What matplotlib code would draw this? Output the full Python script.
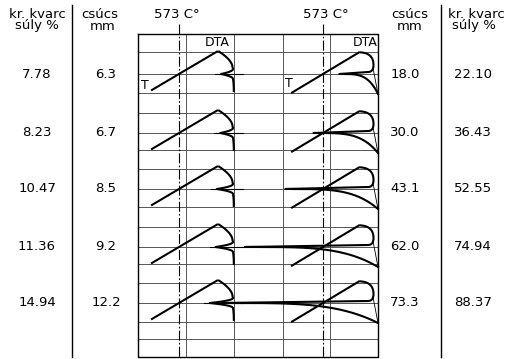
import numpy as np
import matplotlib
matplotlib.use("Agg")
import matplotlib.pyplot as plt

# ---- data ----
quartz_left = ["7.78", "8.23", "10.47", "11.36", "14.94"]     # kr. kvarc súly %
peak_left = [6.3, 6.7, 8.5, 9.2, 12.2]                        # csúcs mm
peak_left_text = ["6.3", "6.7", "8.5", "9.2", "12.2"]
peak_right = [18.0, 30.0, 43.1, 62.0, 73.3]                   # csúcs mm
peak_right_text = ["18.0", "30.0", "43.1", "62.0", "73.3"]
quartz_right = ["22.10", "36.43", "52.55", "74.94", "88.37"]  # kr. kvarc súly %

# ---- layout (pixel space) ----
W, H = 511, 359
fig = plt.figure(figsize=(W / 100, H / 100), dpi=100)
ax = fig.add_axes([0, 0, 1, 1])
ax.set_xlim(0, W)
ax.set_ylim(H, 0)
ax.axis('off')

row_y = [74, 133, 189, 247, 303]
L, T, R, B = 138, 34, 378, 357
grid_y = [52, 74, 93, 113, 133, 150, 169, 189, 207, 227, 247, 264, 283,
          303, 322, 339]
grid_x = [186, 234, 283, 330]
x573 = [179, 323]

gc = '#555555'
for y in grid_y:
    ax.plot([L, R], [y, y], color=gc, lw=0.7)
for x in grid_x:
    ax.plot([x, x], [T, B], color=gc, lw=0.7)
for x in x573:
    ax.plot([x, x], [24, B], color='k', lw=0.8, dashes=(9, 2, 1.5, 2))
ax.plot([L, R, R, L, L], [T, T, B, B, T], color='k', lw=1.0)
for x in [72, 441]:
    ax.plot([x, x], [5, 357], color='k', lw=1.0)

LW = 1.5


def bez(p0, p1, p2, n=20):
    t = np.linspace(0, 1, n)[:, None]
    p0, p1, p2 = map(np.asarray, (p0, p1, p2))
    pts = (1 - t) ** 2 * p0 + 2 * (1 - t) * t * p1 + t ** 2 * p2
    return pts[:, 0], pts[:, 1]


# ---- left panel curves ----
sl = 0.59
xb = 233
for c, h in zip(row_y, peak_left):
    x0, x1 = 152, 217
    y0 = c - (x0 - x573[0]) * sl
    y1 = c - (x1 - x573[0]) * sl
    ax.plot([x0, x1], [y0, y1], color='k', lw=LW)
    tip = xb - 1.9 * h
    w = 5.0
    xs, ys = [], []
    bx, by = bez((x1 + 2, y1), (xb - 1, c - 14), (xb - 0.5, c - 7))
    xs += list(bx); ys += list(by)
    d = np.linspace(w, 0, 25)
    xs += list(xb - (xb - tip) * (1 - d / w) ** 2); ys += list(c - d)
    d = np.linspace(0, w, 25)
    xs += list(xb - (xb - tip) * (1 - d / w) ** 2); ys += list(c + d)
    bx, by = bez((xb, c + w), (xb + 0.8, c + 10), (xb + 0.8, c + 17))
    xs += list(bx); ys += list(by)
    ax.plot(xs, ys, color='k', lw=LW)
    # level mark through the peak
    ax.plot([tip - 6, xb + 10], [c, c], color='k', lw=0.8)

# ---- right panel curves ----
sr = 0.6
xr = 378
for c, h in zip(row_y, peak_right):
    x0, x1 = 292, 359
    y0 = c - (x0 - x573[1]) * sr
    y1 = c - (x1 - x573[1]) * sr
    ax.plot([x0, x1], [y0, y1], color='k', lw=LW)
    tip = xr - 2.15 * h
    xs, ys = [], []
    bx, by = bez((x1 + 2, y1), (374, y1 + 1), (373.5, c - 8))
    xs += list(bx); ys += list(by)
    bx, by = bez((373.5, c - 8), (373, c - 2), (368, c - 2))
    xs += list(bx); ys += list(by)
    xx = np.linspace(368, tip, 40)
    fr = (xx - tip) / (368 - tip)
    xs += list(xx); ys += list(c - 2 * fr)
    xx = np.linspace(tip, xr, 60)
    fr = (xx - tip) / (xr - tip)
    xs += list(xx); ys += list(c + 20 * fr ** 4)
    ax.plot(xs, ys, color='k', lw=LW)
    ax.plot([373, xr], [c - 6, c + 20], color='k', lw=0.6)

# ---- text ----
fs = 9.5
kw = dict(ha='center', va='center', fontsize=fs, family='DejaVu Sans')
ax.text(37, 14, "kr. kvarc", **kw)
ax.text(37, 26, "súly %", **kw)
ax.text(100, 14, "csúcs", **kw)
ax.text(103, 26, "mm", **kw)
ax.text(177, 14, "573 C°", **kw)
ax.text(326, 14, "573 C°", **kw)
ax.text(410, 14, "csúcs", **kw)
ax.text(410, 26, "mm", **kw)
ax.text(476, 14, "kr. kvarc", **kw)
ax.text(474, 26, "súly %", **kw)
ax.text(217, 43, "DTA", **{**kw, 'fontsize': 9})
ax.text(365, 43, "DTA", **{**kw, 'fontsize': 9})
ax.text(149, row_y[0] + 18, "T", ha='right', va='bottom', fontsize=9)
ax.text(293, row_y[0] + 16, "T", ha='right', va='bottom', fontsize=9)

for c, a, b, p, q in zip(row_y, quartz_left, peak_left_text,
                         peak_right_text, quartz_right):
    ax.text(37, c, a, **kw)
    ax.text(106, c, b, **kw)
    ax.text(405, c, p, **kw)
    ax.text(473, c, q, **kw)

fig.savefig("out.png", dpi=100, facecolor='white')
